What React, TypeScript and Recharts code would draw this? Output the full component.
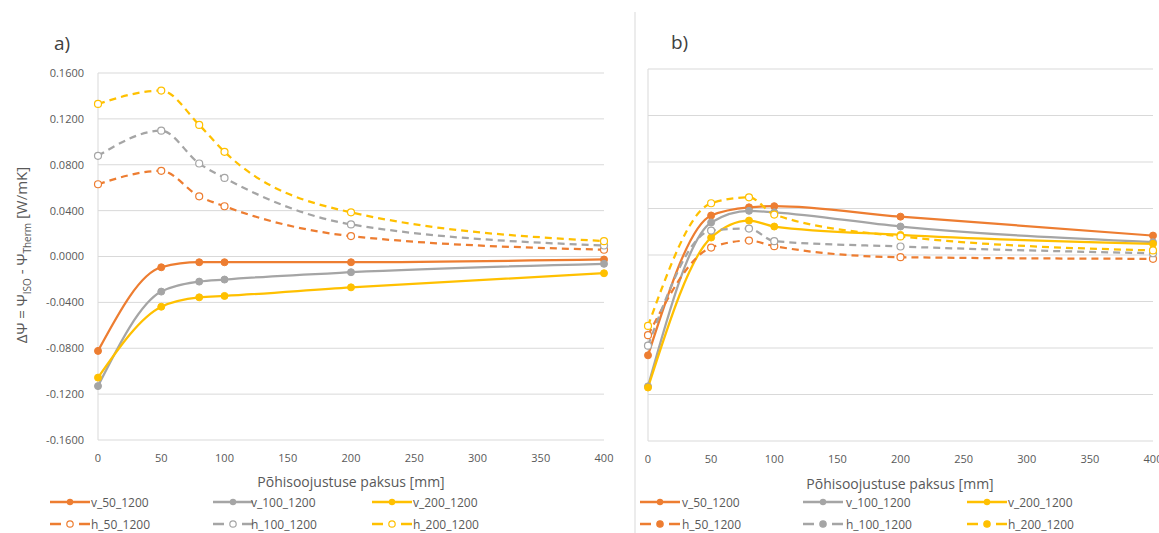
import React from "react"
import { LineChart, Line, XAxis, YAxis, CartesianGrid, ReferenceLine } from "recharts"

// thickness of insulation [mm]
const xs = [0, 50, 80, 100, 200, 400]
const xTicks = [0, 50, 100, 150, 200, 250, 300, 350, 400]
const yTicks = [-0.16, -0.12, -0.08, -0.04, 0, 0.04, 0.08, 0.12, 0.16]

// a) values
const a_v50 = [-0.0823, -0.0094, -0.005, -0.005, -0.005, -0.0026]
const a_v100 = [-0.113, -0.0306, -0.0219, -0.0201, -0.0137, -0.0064]
const a_v200 = [-0.1056, -0.0438, -0.0356, -0.0344, -0.0269, -0.0146]
const a_h50 = [0.063, 0.0747, 0.0525, 0.0438, 0.0178, 0.0059]
const a_h100 = [0.0878, 0.1097, 0.0811, 0.0685, 0.028, 0.0096]
const a_h200 = [0.133, 0.1447, 0.1147, 0.0913, 0.0385, 0.0134]

// b) values
const b_v50 = [-0.0863, 0.034, 0.041, 0.042, 0.033, 0.0167]
const b_v100 = [-0.113, 0.028, 0.038, 0.0367, 0.0245, 0.011]
const b_v200 = [-0.114, 0.015, 0.0296, 0.0245, 0.0173, 0.0096]
const b_h50 = [-0.069, 0.0064, 0.0124, 0.0076, -0.0019, -0.0033]
const b_h100 = [-0.078, 0.021, 0.0227, 0.0119, 0.0073, 0.0015]
const b_h200 = [-0.061, 0.0445, 0.0496, 0.0348, 0.016, 0.0039]

const names = ["v_50_1200", "v_100_1200", "v_200_1200", "h_50_1200", "h_100_1200", "h_200_1200"]
const colors = ["#ED7D31", "#A5A5A5", "#FFC000", "#ED7D31", "#A5A5A5", "#FFC000"]

const font = "'Open Sans', sans-serif"
const textColor = "#595959"
const gridColor = "#d9d9d9"

function buildRows(series: number[][]) {
  return xs.map((x, i) => {
    const row: any = { x }
    series.forEach((s, j) => { row[names[j]] = s[i] })
    return row
  })
}

const dataA = buildRows([a_v50, a_v100, a_v200, a_h50, a_h100, a_h200])
const dataB = buildRows([b_v50, b_v100, b_v200, b_h50, b_h100, b_h200])

function seriesLines() {
  return names.map((n, i) => {
    const dashed = n.startsWith("h")
    return (
      <Line
        key={n}
        type="monotone"
        dataKey={n}
        stroke={colors[i]}
        strokeWidth={2.25}
        strokeDasharray={dashed ? "7 5" : undefined}
        dot={dashed
          ? { r: 3.5, fill: "#fff", stroke: colors[i], strokeWidth: 1.2, strokeDasharray: "0" }
          : { r: 3.5, fill: colors[i], stroke: colors[i], strokeWidth: 1 }}
        isAnimationActive={false}
      />
    )
  })
}

const tickStyle = { fontSize: 11, fill: textColor, fontFamily: font }

function Legend({ x0, colX, textX }: { x0: number; colX: number[]; textX: number[] }) {
  return (
    <g>
      {names.map((n, i) => {
        const col = i % 3
        const y = i < 3 ? 502 : 524
        const lx = colX[col] + x0
        const dashed = n.startsWith("h")
        return (
          <g key={n}>
            {dashed ? (
              <>
                <line x1={lx} y1={y} x2={lx + 11} y2={y} stroke={colors[i]} strokeWidth={2.5} />
                <line x1={lx + 29} y1={y} x2={lx + 40} y2={y} stroke={colors[i]} strokeWidth={2.5} />
                <circle cx={lx + 20} cy={y} r={3.2} fill={x0 > 0 ? colors[i] : "#fff"} stroke={colors[i]} strokeWidth={1.2} />
              </>
            ) : (
              <>
                <line x1={lx} y1={y} x2={lx + 40} y2={y} stroke={colors[i]} strokeWidth={2.5} />
                <circle cx={lx + 20} cy={y} r={3.2} fill={colors[i]} />
              </>
            )}
            <text x={textX[col] + x0} y={y + 4.5} fontSize={12} fill={textColor} fontFamily={font}>{n}</text>
          </g>
        )
      })}
    </g>
  )
}

export default function App() {
  return (
    <div style={{ position: "absolute", left: 0, top: 0, width: 1159, height: 533, background: "#fff" }}>
      <div style={{ position: "absolute", left: 0, top: 0 }}>
        <LineChart width={630} height={533} data={dataA} margin={{ top: 73, right: 26, left: 38, bottom: 63 }}>
          <CartesianGrid vertical={false} stroke={gridColor} />
          <XAxis dataKey="x" type="number" domain={[0, 400]} ticks={xTicks} height={30}
            tickLine={false} axisLine={false} tickMargin={8} tick={tickStyle} interval={0} />
          <YAxis type="number" domain={[-0.16, 0.16]} ticks={yTicks} width={60}
            tickLine={false} axisLine={{ stroke: gridColor }} tickMargin={8} tick={tickStyle}
            tickFormatter={(v: number) => v.toFixed(4)} interval={0} />
          {seriesLines()}
        </LineChart>
      </div>
      <div style={{ position: "absolute", left: 636, top: 0 }}>
        <LineChart width={523} height={533} data={dataB} margin={{ top: 69, right: 6, left: 12, bottom: 62 }}>
          <XAxis dataKey="x" type="number" domain={[0, 400]} ticks={xTicks} height={30}
            tickLine={false} axisLine={false} tickMargin={8} tick={tickStyle} interval={0} />
          <YAxis type="number" domain={[-0.16, 0.16]} ticks={yTicks} hide />
          {yTicks.map((t) => (
            <ReferenceLine key={t} y={t} stroke={gridColor} />
          ))}
          <ReferenceLine x={0} stroke={gridColor} />
          {seriesLines()}
        </LineChart>
      </div>
      <svg width={1159} height={533} style={{ position: "absolute", left: 0, top: 0, pointerEvents: "none" }}>
        <line x1={635} y1={12} x2={635} y2={533} stroke={gridColor} strokeWidth={1} />
        <text x={54} y={50} fontSize={19} fill="#404040" fontFamily={font}>a)</text>
        <text x={671} y={49} fontSize={19} fill="#404040" fontFamily={font}>b)</text>
        <text transform="translate(27,255) rotate(-90)" textAnchor="middle" fontSize={15} fill={textColor} fontFamily={font}>
          ΔΨ = Ψ<tspan fontSize={10} dy={4}>ISO</tspan><tspan dy={-4}> - Ψ</tspan><tspan fontSize={10} dy={4}>Therm</tspan><tspan dy={-4}> [W/mK]</tspan>
        </text>
        <text x={351} y={487} textAnchor="middle" fontSize={14} fill={textColor} fontFamily={font}>Põhisoojustuse paksus [mm]</text>
        <text x={900} y={489} textAnchor="middle" fontSize={14} fill={textColor} fontFamily={font}>Põhisoojustuse paksus [mm]</text>
        <Legend x0={0} colX={[50, 213, 372]} textX={[91, 251, 413]} />
        <Legend x0={590} colX={[50, 213, 377]} textX={[92, 256, 418]} />
      </svg>
    </div>
  )
}
